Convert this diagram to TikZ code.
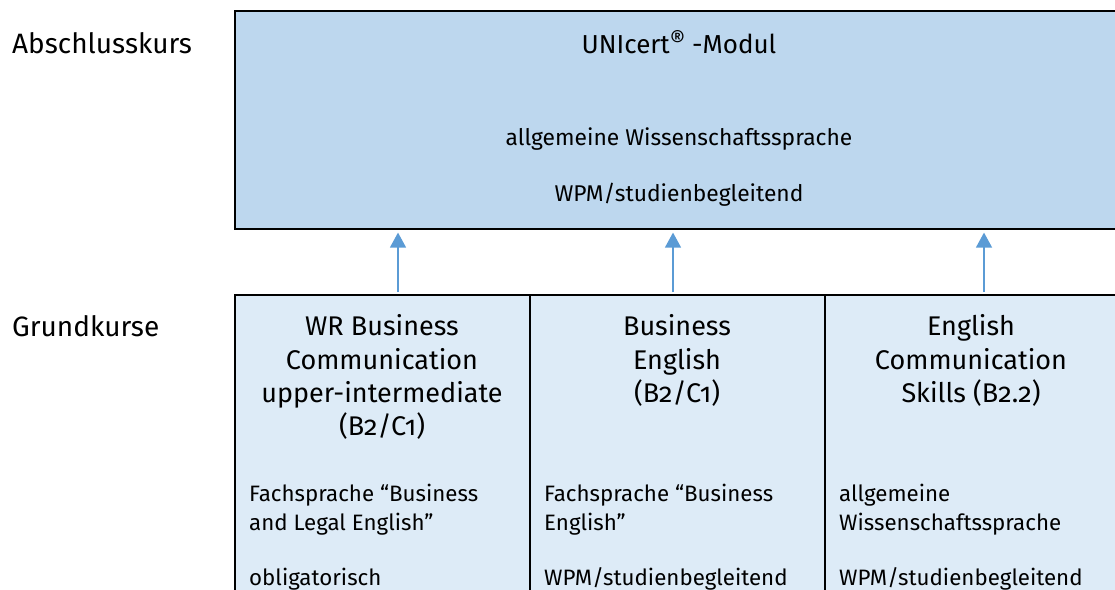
\documentclass[tikz,border=0pt]{standalone}
\usepackage{fontspec}
\setmainfont{Fira Sans}[Numbers=OldStyle]
\usetikzlibrary{arrows.meta}
\definecolor{topfill}{HTML}{BDD7EE}
\definecolor{botfill}{HTML}{DDEBF7}
\definecolor{arrowblue}{HTML}{5B9BD5}
\tikzset{
  x=1pt, y=-1pt,
  topbox/.style={draw=black, line width=1.6pt, fill=topfill, rectangle, anchor=north west, inner sep=0pt},
  botbox/.style={draw=black, line width=1.6pt, fill=botfill, rectangle, anchor=north west, inner sep=0pt, minimum width=295pt, minimum height=320pt},
  rowlabel/.style={anchor=west, inner sep=0pt, font=\fontsize{28}{32}\selectfont},
  title/.style={anchor=north, inner sep=0pt, align=center, font=\fontsize{27}{33.4}\selectfont},
  small/.style={anchor=north west, inner sep=0pt, align=left, font=\fontsize{22.3}{29}\selectfont},
  topsmall/.style={anchor=center, inner sep=0pt, font=\fontsize{22.8}{26}\selectfont},
  arr/.style={draw=arrowblue, line width=1.4pt, -{Triangle[width=16pt,length=15pt]}}
}
\begin{document}
\begin{tikzpicture}
\useasboundingbox (0,0) rectangle (1115,589);
\node[topbox, minimum width=900pt, minimum height=218pt] (top) at (234,10) {};
\node[botbox] (b1) at (234,294) {};
\node[botbox] (b2) at (529,294) {};
\node[botbox] (b3) at (824,294) {};

\node[rowlabel] (lab1) at (12,43) {Abschlusskurs};
\node[rowlabel] (lab2) at (12,326) {Grundkurse};

\node[anchor=center, inner sep=0pt, font=\fontsize{26}{30}\selectfont] (t0) at (679,42) {UNIcert{\fontsize{24}{28}\selectfont\raisebox{0.35ex}{®}} -Modul};
\node[topsmall] (t1) at (679,139) {allgemeine Wissenschaftssprache};
\node[topsmall] (t2) at (679,195) {WPM/studienbegleitend};

\node[title] (h1) at (382,314.5) {WR Business\\Communication\\upper-intermediate\\(B2/C1)};
\node[title] (h2) at (677,314.5) {Business\\English\\(B2/C1)};
\node[title] (h3) at (971,314.5) {English\\Communication\\Skills (B2.2)};

\node[small] (s1) at (249,483.5) {Fachsprache “Business\\and Legal English”};
\node[small] (s2) at (544,483.5) {Fachsprache “Business\\English”};
\node[small] (s3) at (839,483.5) {allgemeine\\Wissenschaftssprache};
\node[small] (o1) at (249,567.5) {obligatorisch};
\node[small] (o2) at (544,567.5) {WPM/studienbegleitend};
\node[small] (o3) at (839,567.5) {WPM/studienbegleitend};

\coordinate (a1) at (398,292);
\coordinate (a2) at (673,292);
\coordinate (a3) at (984,292);
\draw[arr] (a1) -- ([yshift=-3pt]a1 |- top.south);
\draw[arr] (a2) -- ([yshift=-3pt]a2 |- top.south);
\draw[arr] (a3) -- ([yshift=-3pt]a3 |- top.south);
\end{tikzpicture}
\end{document}
